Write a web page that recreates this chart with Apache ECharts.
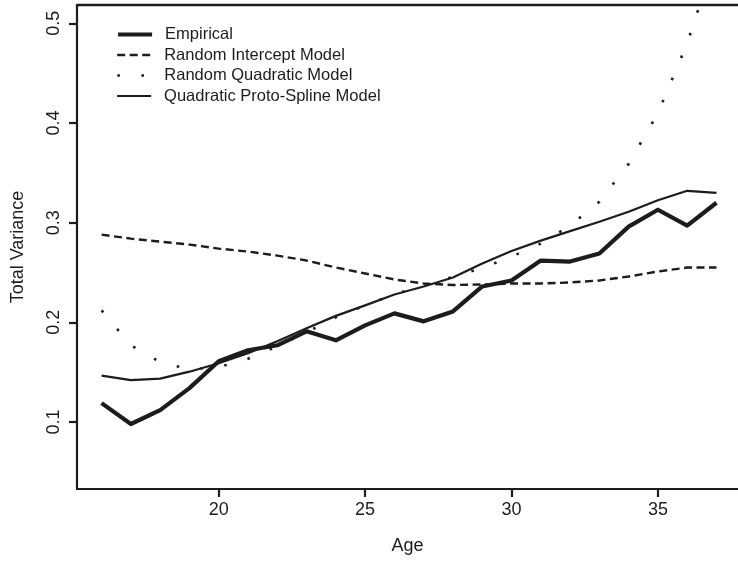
<!DOCTYPE html>
<html>
<head>
<meta charset="utf-8">
<script src="https://cdn.jsdelivr.net/npm/echarts@6/dist/echarts.min.js"></script>
<style>
html,body{margin:0;padding:0;background:#fff;}
#chart{width:738px;height:561px;}
</style>
</head>
<body>
<div id="chart"></div>
<script>
const ages = [16,17,18,19,20,21,22,23,24,25,26,27,28,29,30,31,32,33,34,35,36,37];
const empirical = [0.119,0.098,0.112,0.134,0.161,0.172,0.177,0.191,0.182,0.197,0.209,0.201,0.211,0.236,0.242,0.262,0.261,0.269,0.296,0.313,0.297,0.320];
const randomIntercept = [0.288,0.284,0.281,0.278,0.274,0.271,0.267,0.262,0.255,0.249,0.243,0.239,0.2375,0.238,0.239,0.239,0.240,0.242,0.246,0.251,0.255,0.255];
const randomQuadratic = [0.212,0.177,0.160,0.153,0.155,0.1635,0.176,0.190,0.205,0.217,0.228,0.237,0.2455,0.2545,0.266,0.279,0.297,0.321,0.359,0.410,0.480,0.570];
const protoSpline = [0.1465,0.142,0.1435,0.1505,0.159,0.169,0.181,0.194,0.2065,0.217,0.228,0.236,0.245,0.259,0.2715,0.282,0.2915,0.301,0.311,0.3225,0.332,0.330];
const xTicks = [20,25,30,35];
const yTicks = [0.1,0.2,0.3,0.4,0.5];
const seriesNames = ['Empirical','Random Intercept Model','Random Quadratic Model','Quadratic Proto-Spline Model'];

const FONT = '"Liberation Sans", Arial, Helvetica, sans-serif';
const INK = '#1c1c1c';
const pairs = arr => ages.map((a,i)=>[a, arr[i]]);

const styles = [
  {width:4.2, type:'solid'},
  {width:2.4, type:[8,4.5]},
  {width:2.6, type:[2.6,21.5]},
  {width:2.2, type:'solid'}
];
const dataSets = [empirical, randomIntercept, randomQuadratic, protoSpline];
const legendTops = [34, 54.5, 75, 95.5];

const chart = echarts.init(document.getElementById('chart'), null, {renderer:'canvas'});
chart.setOption({
  animation:false,
  backgroundColor:'#fff',
  grid:{left:77, right:0, top:5, bottom:72, show:false},
  legend: seriesNames.map((n,i)=>({
    data:[n], orient:'vertical', left:116, top:legendTops[i]-8,
    itemWidth:34, itemHeight:14, padding:0,
    itemStyle:{opacity:0},
    lineStyle:{width:styles[i].width, type:styles[i].type, color:INK, cap:'butt'},
    textStyle:{fontFamily:FONT, fontSize:16.5, color:INK, padding:[0,0,0,8]},
    selectedMode:false
  })),
  xAxis:[{
    type:'value', min:15.16, max:37.735,
    axisLine:{show:true, lineStyle:{color:INK, width:2.2}},
    axisTick:{show:true, length:8, customValues:xTicks, lineStyle:{color:INK, width:2.2}},
    axisLabel:{customValues:xTicks, fontFamily:FONT, fontSize:18, color:INK, margin:12},
    splitLine:{show:false},
    name:'Age', nameLocation:'middle', nameGap:48,
    nameTextStyle:{fontFamily:FONT, fontSize:18, color:INK}
  },{
    type:'value', position:'top', min:15.16, max:37.735,
    axisLine:{show:true, onZero:false, lineStyle:{color:INK, width:2.4}},
    axisTick:{show:false}, axisLabel:{show:false}, splitLine:{show:false}
  }],
  yAxis:{
    type:'value', min:0.0328, max:0.5184,
    axisLine:{show:true, lineStyle:{color:INK, width:2.2}},
    axisTick:{show:true, length:8, customValues:yTicks, lineStyle:{color:INK, width:2.2}},
    axisLabel:{customValues:yTicks, rotate:90, fontFamily:FONT, fontSize:18, color:INK, margin:14,
      formatter:v=>v.toFixed(1)},
    splitLine:{show:false},
    name:'Total Variance', nameLocation:'middle', nameGap:50,
    nameTextStyle:{fontFamily:FONT, fontSize:18, color:INK}
  },
  series: seriesNames.map((n,i)=>({
    name:n, type:'line', data:pairs(dataSets[i]), xAxisIndex:0,
    symbol:'none', showSymbol:false, clip:true, smooth:false,
    lineStyle:{color:INK, width:styles[i].width, type:styles[i].type, join:'round', cap:'butt'},
    itemStyle:{color:INK},
    emphasis:{disabled:true}
  }))
});
</script>
</body>
</html>
